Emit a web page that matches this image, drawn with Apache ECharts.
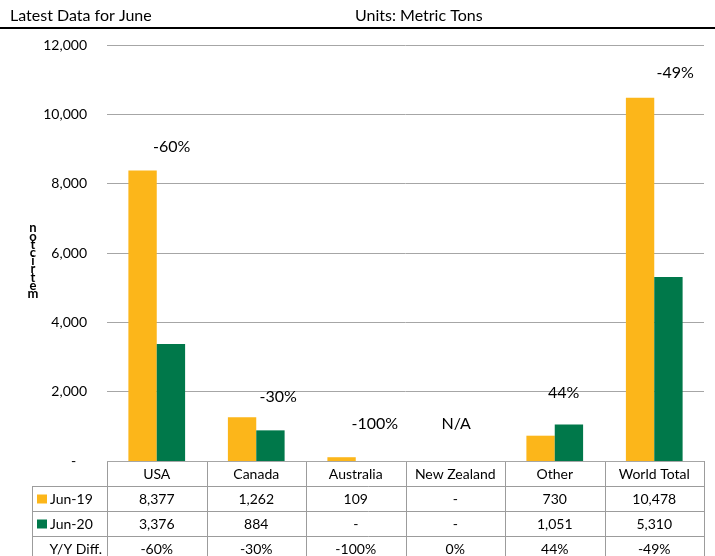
<!DOCTYPE html>
<html>
<head>
<meta charset="utf-8">
<script src="https://cdn.jsdelivr.net/npm/echarts@6/dist/echarts.min.js"></script>
<style>
  html, body { margin: 0; padding: 0; background: #fff; }
  #chart { width: 715px; height: 556px; }
</style>
</head>
<body>
<div id="chart"></div>
<script>
// Monthly volumes by origin, June 2019 vs June 2020 (metric tons)
const categories = ['USA', 'Canada', 'Australia', 'New Zealand', 'Other', 'World Total'];
const seriesNames = ['Jun-19', 'Jun-20'];
const jun19 = [8377, 1262, 109, 0, 730, 10478];
const jun20 = [3376, 884, 0, 0, 1051, 5310];
const yoyDiff = ['-60%', '-30%', '-100%', '0%', '44%', '-49%'];
const changeLabels = ['-60%', '-30%', '-100%', 'N/A', '44%', '-49%'];
const yTicks = { min: 0, max: 12000, interval: 2000 };
const unitCaption = 'n\no\nt\nc\ni\nr\nt\ne\nm';

const FONT = 'Lato';
const ORANGE = '#FCB61A';
const GREEN = '#00784A';
const RULE = '#9c9c9c';

// plot rectangle
const G = { left: 107, right: 704, top: 45, bottom: 461 };
const colW = (G.right - G.left) / categories.length;
const rowH = 25;
const labelColLeft = 32;

// label nudges for the change annotations (pixels, relative to taller bar top)
const changeLabelNudge = [[15, -24], [22, -20], [19, -33], [1, -37], [9, -32], [21, -25]];

const fmt = v => (v === 0 || v == null) ? '-' : v.toLocaleString('en-US');

const chart = echarts.init(document.getElementById('chart'), null, { renderer: 'canvas' });

// data table beneath the axis
const graphics = [];
function hLine(y, x1, x2, color, w) {
  graphics.push({ type: 'line', shape: { x1, y1: y, x2, y2: y }, style: { stroke: color, lineWidth: w }, silent: true });
}
function vLine(x, y1, y2, color, w) {
  graphics.push({ type: 'line', shape: { x1: x, y1, x2: x, y2 }, style: { stroke: color, lineWidth: w }, silent: true });
}
function text(str, x, y, align) {
  graphics.push({ type: 'text', x, y, silent: true,
    style: { text: str, fill: '#000', font: '14px ' + FONT, textAlign: align, textVerticalAlign: 'middle' } });
}

// header row top edge and body rows
hLine(G.bottom + 0.5, G.left, G.right + 0.5, RULE, 1);
for (let r = 1; r <= 3; r++) hLine(G.bottom + r * rowH + 0.5, labelColLeft, G.right + 0.5, RULE, 1);
vLine(labelColLeft + 0.5, G.bottom + rowH, 556, RULE, 1);
for (let i = 0; i <= categories.length; i++) {
  const x = Math.round(G.left + i * colW) + 0.5;
  vLine(x, G.bottom, 556, RULE, 1);
}

// row headings with colour keys
const rowMid = r => G.bottom + r * rowH + rowH / 2 + 0.5;
[ORANGE, GREEN].forEach((c, k) => {
  graphics.push({ type: 'rect', shape: { x: 37, y: rowMid(k + 1) - 4.5, width: 10, height: 9 }, style: { fill: c }, silent: true });
  text(seriesNames[k], 50, rowMid(k + 1), 'left');
});
text('Y/Y Diff.', 102, rowMid(3), 'right');

categories.forEach((c, i) => {
  const cx = G.left + i * colW + colW / 2;
  text(fmt(jun19[i]), cx, rowMid(1), 'center');
  text(fmt(jun20[i]), cx, rowMid(2), 'center');
  text(yoyDiff[i], cx, rowMid(3), 'center');
});

// heading strip
graphics.push({ type: 'text', x: 10, y: 16, silent: true,
  style: { text: 'Latest Data for June', fill: '#000', font: '16px ' + FONT, textVerticalAlign: 'middle' } });
graphics.push({ type: 'text', x: 355, y: 16, silent: true,
  style: { text: 'Units: Metric Tons', fill: '#000', font: '16px ' + FONT, textVerticalAlign: 'middle' } });
hLine(28, 0, 715, '#000', 2);

// stacked unit caption beside the value axis
graphics.push({ type: 'text', x: 33, y: 261, silent: true,
  style: { text: unitCaption, fill: '#000', font: 'bold 13px ' + FONT, lineHeight: 8.2,
    textAlign: 'center', textVerticalAlign: 'middle' } });

const option = {
  animation: false,
  backgroundColor: '#fff',
  textStyle: { fontFamily: FONT },
  grid: { left: G.left, right: 715 - G.right, top: G.top, bottom: 556 - G.bottom, containLabel: false },
  xAxis: {
    type: 'category',
    data: categories,
    axisLine: { show: false },
    axisTick: { show: false },
    axisLabel: { color: '#000', fontSize: 14, fontFamily: FONT, margin: 13, verticalAlign: 'middle', interval: 0 }
  },
  yAxis: {
    type: 'value',
    min: yTicks.min, max: yTicks.max, interval: yTicks.interval,
    axisLine: { show: false },
    axisTick: { show: false },
    splitLine: { lineStyle: { color: '#a6a6a6', width: 1 } },
    axisLabel: {
      color: '#000', fontSize: 14, fontFamily: FONT, margin: 20,
      formatter: v => v === 0 ? '-   ' : v.toLocaleString('en-US')
    }
  },
  series: [
    {
      name: seriesNames[0], type: 'bar', data: jun19,
      barGap: '0%', barCategoryGap: '43%',
      itemStyle: { color: ORANGE }
    },
    {
      name: seriesNames[1], type: 'bar', data: jun20,
      itemStyle: { color: GREEN }
    },
    {
      // year-over-year change annotations
      name: 'change', type: 'scatter',
      symbolSize: 1,
      itemStyle: { color: 'rgba(0,0,0,0)' },
      data: categories.map((c, i) => ({
        value: Math.max(jun19[i], jun20[i]),
        label: { offset: changeLabelNudge[i] }
      })),
      label: {
        show: true, position: 'inside', color: '#000', fontSize: 16, fontFamily: FONT,
        textBorderWidth: 0, opacity: 1,
        formatter: p => changeLabels[p.dataIndex]
      },
      silent: true, z: 5
    }
  ],
  graphic: graphics
};

chart.setOption(option);
</script>
</body>
</html>
